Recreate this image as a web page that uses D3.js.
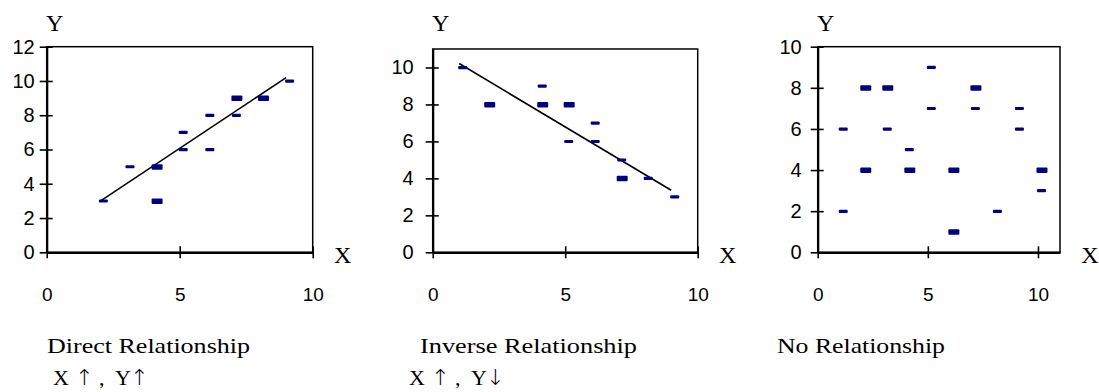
<!DOCTYPE html>
<html>
<head>
<meta charset="utf-8">
<script src="https://cdn.jsdelivr.net/npm/d3@7/dist/d3.min.js"></script>
<style>
  html, body { margin: 0; padding: 0; background: #fff; }
  svg { display: block; }
</style>
</head>
<body>
<div id="chart"></div>
<script>
// Data
// n = how many observations overlap on that spot (drawn as a heavier dash)
const directX = [2, 3, 4, 4, 5, 5, 6, 6, 7, 7, 8, 9]
const directY = [3, 5, 5, 3, 7, 6, 8, 6, 9, 8, 9, 10]
const directN = [1, 1, 2, 2, 1, 1, 1, 1, 2, 1, 2, 1]

const inverseX = [1, 2, 4, 4, 5, 5, 6, 6, 7, 7, 8, 9]
const inverseY = [10, 8, 9, 8, 8, 6, 7, 6, 5, 4, 4, 3]
const inverseN = [1, 2, 1, 2, 2, 1, 1, 1, 1, 2, 1, 1]

const noneX = [1, 1, 2, 2, 3, 3, 4, 4, 5, 5, 6, 6, 7, 7, 8, 9, 9, 10, 10]
const noneY = [6, 2, 8, 4, 8, 6, 5, 4, 9, 7, 4, 1, 8, 7, 2, 7, 6, 4, 3]
const noneN = [1, 1, 2, 2, 2, 1, 1, 2, 1, 1, 2, 2, 2, 1, 1, 1, 1, 2, 1]

const xTicks = [0, 5, 10]
const directYTicks = [0, 2, 4, 6, 8, 10, 12]
const otherYTicks = [0, 2, 4, 6, 8, 10]

const titles = ["Direct Relationship", "Inverse Relationship", "No Relationship"]
// caption pieces: X, arrow, comma, Y, arrow
const subtitles = [["X", "\u2191", ",", "Y", "\u2191"], ["X", "\u2191", ",", "Y", "\u2193"], []]
const ARROWS = ["\u2191", "\u2193"]

const SANS = "Arial, 'Liberation Sans', sans-serif"
const SERIF = "'Times New Roman', 'Liberation Serif', serif"
const ARROW_FONT = "'DejaVu Sans ExtraLight', 'DejaVu Sans', sans-serif"
const NAVY = "#000080"

const W = 1099, H = 392

// horizontal offsets of the caption pieces from the caption start
const subOffsets = [0, 22, 46, 62, 77]

// layout of each small chart
const panels = [
  { xs: directX, ys: directY, ns: directN, xMax: 10, yMax: 12, yTicks: directYTicks, fit: true,
    left: 46.7, right: 312.7, top: 46.7, bottom: 252.3, labelPad: 5,
    title: titles[0], titleX: 47, titleLen: 203, sub: subtitles[0], subX: 53 },
  { xs: inverseX, ys: inverseY, ns: inverseN, xMax: 10, yMax: 11, yTicks: otherYTicks, fit: true,
    left: 432.7, right: 697.7, top: 49, bottom: 252.3, labelPad: 12,
    title: titles[1], titleX: 420, titleLen: 217, sub: subtitles[1], subX: 409 },
  { xs: noneX, ys: noneY, ns: noneN, xMax: 11, yMax: 10, yTicks: otherYTicks, fit: false,
    left: 817.7, right: 1060, top: 46.7, bottom: 252.3, labelPad: 9,
    title: titles[2], titleX: 777, titleLen: 168, sub: subtitles[2], subX: 0 }
]

const svg = d3.select("#chart").append("svg")
  .attr("width", W)
  .attr("height", H)
  .attr("viewBox", `0 0 ${W} ${H}`)

svg.append("rect").attr("width", W).attr("height", H).attr("fill", "#fff")

function fitLine(xs, ys) {
  const mx = d3.mean(xs), my = d3.mean(ys)
  const sxy = d3.sum(xs, (x, i) => (x - mx) * (ys[i] - my))
  const sxx = d3.sum(xs, x => (x - mx) * (x - mx))
  const slope = sxy / sxx
  return { slope, intercept: my - slope * mx }
}

function drawPanel(p) {
  const x = d3.scaleLinear().domain([0, p.xMax]).range([p.left, p.right])
  const y = d3.scaleLinear().domain([0, p.yMax]).range([p.bottom, p.top])
  const g = svg.append("g")

  // plot frame
  g.append("rect")
    .attr("x", p.left).attr("y", p.top)
    .attr("width", p.right - p.left).attr("height", p.bottom - p.top)
    .attr("fill", "none").attr("stroke", "#000").attr("stroke-width", 1.5)

  // y axis, ticks cross the axis line
  g.append("g")
    .attr("transform", `translate(${p.left},0)`)
    .call(d3.axisLeft(y).tickValues(p.yTicks).tickFormat(d3.format("d"))
      .tickSizeInner(7).tickSizeOuter(0).tickPadding(p.labelPad))
    .call(a => a.select(".domain").attr("stroke-width", 2.2))
    .call(a => a.selectAll(".tick line").attr("x1", 6).attr("stroke-width", 1.6))
    .call(a => a.selectAll(".tick text")
      .attr("font-family", SANS).attr("font-size", 20).attr("fill", "#000"))

  // x axis, labels sit well below the line
  g.append("g")
    .attr("transform", `translate(0,${p.bottom})`)
    .call(d3.axisBottom(x).tickValues(xTicks).tickFormat(d3.format("d"))
      .tickSizeInner(6).tickSizeOuter(0).tickPadding(29))
    .call(a => a.select(".domain").attr("stroke-width", 2.2))
    .call(a => a.selectAll(".tick line").attr("y1", -6).attr("stroke-width", 1.6))
    .call(a => a.selectAll(".tick text")
      .attr("font-family", SANS).attr("font-size", 19).attr("fill", "#000"))

  // axis letters
  g.append("text")
    .attr("x", p.left + 8).attr("y", 31)
    .attr("text-anchor", "middle")
    .attr("font-family", SERIF).attr("font-size", 24)
    .text("Y")
  g.append("text")
    .attr("x", p.right + 30).attr("y", 263)
    .attr("text-anchor", "middle")
    .attr("font-family", SERIF).attr("font-size", 24)
    .text("X")

  // fitted trend line
  if (p.fit) {
    const { slope, intercept } = fitLine(p.xs, p.ys)
    const [x0, x1] = d3.extent(p.xs)
    g.append("line")
      .attr("x1", x(x0)).attr("y1", y(intercept + slope * x0))
      .attr("x2", x(x1)).attr("y2", y(intercept + slope * x1))
      .attr("stroke", "#000").attr("stroke-width", 1.6)
  }

  // dash markers
  const pts = p.xs.map((v, i) => ({ x: v, y: p.ys[i], n: p.ns[i] }))
  g.append("g")
    .selectAll("rect")
    .data(pts)
    .join("rect")
    .attr("x", d => x(d.x) - (d.n > 1 ? 1.5 : 1))
    .attr("y", d => y(d.y) - (d.n > 1 ? 2.5 : 1.5))
    .attr("width", d => d.n > 1 ? 11 : 9)
    .attr("height", d => d.n > 1 ? 5.5 : 3.2)
    .attr("rx", 1)
    .attr("fill", NAVY)

  // captions
  g.append("text")
    .attr("x", p.titleX).attr("y", 353)
    .attr("font-family", SERIF).attr("font-size", 22)
    .attr("textLength", p.titleLen).attr("lengthAdjust", "spacingAndGlyphs")
    .text(p.title)

  // X / Y with arrows
  g.append("g")
    .selectAll("text")
    .data(p.sub)
    .join("text")
    .attr("x", (d, i) => p.subX + subOffsets[i])
    .attr("y", 385)
    .attr("font-family", d => ARROWS.includes(d) ? ARROW_FONT : SERIF)
    .attr("font-weight", d => ARROWS.includes(d) ? 200 : 400)
    .attr("font-size", d => ARROWS.includes(d) ? 22 : 22)
    .attr("fill", "#000")
    .text(d => d)
}

panels.forEach(drawPanel)
</script>
</body>
</html>
